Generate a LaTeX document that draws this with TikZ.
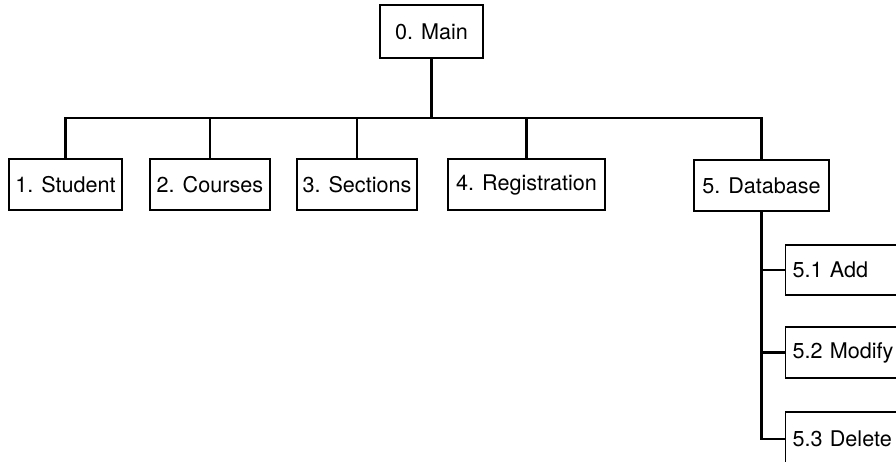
\documentclass[tikz,border=0pt]{standalone}
\usepackage{fontspec}
\setmainfont{TeX Gyre Heros}

\begin{document}
\begin{tikzpicture}[line join=miter,x=1pt,y=-1pt,
  box/.style={draw,line width=1.3pt,inner sep=0pt,minimum height=51pt,font=\fontsize{21.6}{25}\selectfont},
  subbox/.style={box,anchor=west,inner xsep=7pt,text width=120pt,align=left},
  wire/.style={line width=2.6pt}]
\clip (0,0) rectangle (896,462);
%
\node[box,minimum width=103pt,minimum height=53pt] (main) at (431.5,31.5) {0. Main};
\node[box,minimum width=113pt] (student) at (65.5,184.5) {1. Student};
\node[box,minimum width=120pt] (courses) at (210,184.5) {2. Courses};
\node[box,minimum width=120pt] (sections) at (357,184.5) {3. Sections};
\node[box,minimum width=157pt] (registration) at (526.5,184.5) {4. Registration};
\node[box,minimum width=135pt] (database) at (761.5,185.5) {5. Database};
%
\node[subbox,minimum height=50pt] (add) at (785,270) {5.1 Add};
\node[subbox] (modify) at (785,352.5) {5.2 Modify};
\node[subbox,minimum height=54pt] (delete) at (785,439) {5.3 Delete};
%
\coordinate (bar) at (431,118);
\draw[wire] (main.south) -- (main.south |- bar);
\draw[wire] (student.north) |- (bar) -| (database.north);
\draw[wire] (courses.north) -- (courses.north |- bar);
\draw[wire] (sections.north) -- (sections.north |- bar);
\draw[wire] (registration.north) -- (registration.north |- bar);
%
\draw[wire] (database.south) |- (delete.west);
\draw[wire] (add.west) -- (add.west -| database.south);
\draw[wire] (modify.west) -- (modify.west -| database.south);
\end{tikzpicture}
\end{document}
